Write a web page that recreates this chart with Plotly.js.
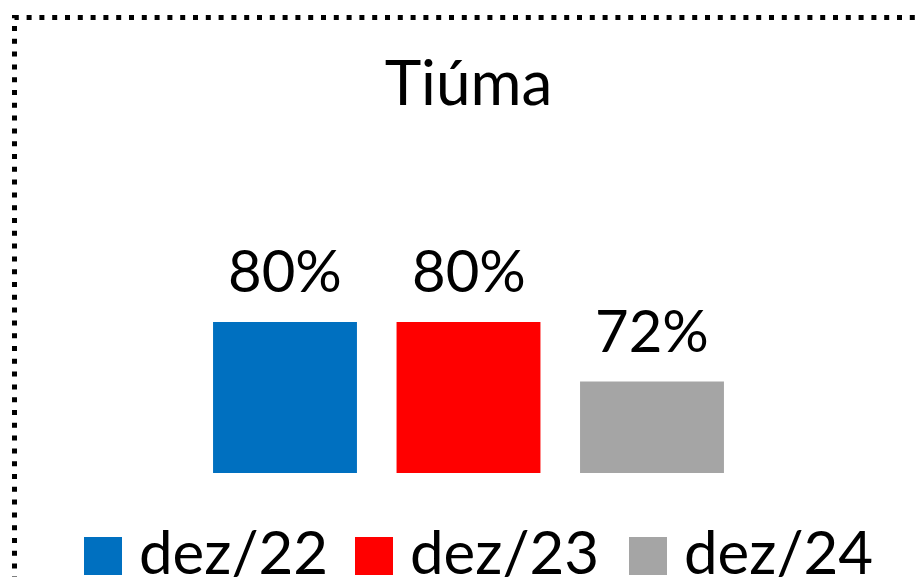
<!DOCTYPE html>
<html>
<head>
<meta charset="utf-8">
<script src="https://cdn.plot.ly/plotly-3.0.1.min.js"></script>
<style>
html,body{margin:0;padding:0;background:#fff;}
#chart{width:919px;height:577px;}
</style>
</head>
<body>
<div id="chart"></div>
<script>
// ---- data ----
const chartTitle = "Tiúma";
const seriesNames = ["dez/22", "dez/23", "dez/24"];
const seriesValues = [80, 80, 72];
const seriesColors = ["#0070C0", "#FF0000", "#A5A5A5"];

// ---- layout geometry (pixels) ----
const W = 919, H = 577;
const plotL = 10, plotR = 909, plotT = 150, plotB = 473;
const catStep = 183.5;      // pixels between bar centres
const midCentre = 468.5;    // pixel centre of the middle bar
const FONT = "Lato, 'Open Sans', sans-serif";
const LW = 5;               // outline width (same colour as fill)
const legendTextLeft = [142, 413, 687]; // pixel x where each legend label starts
const swatchSize = 38, swatchGap = 20, swatchTop = 537, legendTextTop = 513;

const pw = plotR - plotL, ph = plotB - plotT;
const px2x = p => (p - plotL) / pw;
const py2y = p => (plotB - p) / ph;
const xLo = 1 - (midCentre - plotL) / catStep;
const xHi = xLo + pw / catStep;

const traces = seriesNames.map((name, i) => ({
  type: "bar",
  name: name,
  x: [name],
  y: [seriesValues[i]],
  marker: { color: seriesColors[i], line: { color: seriesColors[i], width: LW } },
  hoverinfo: "skip",
  showlegend: false
}));

// value labels above bars
const annotations = seriesNames.map((name, i) => ({
  x: name,
  y: seriesValues[i],
  xref: "x",
  yref: "y",
  text: seriesValues[i] + "%",
  showarrow: false,
  yanchor: "bottom",
  yshift: 18,
  font: { family: FONT, size: 58, color: "#000" }
}));

// legend labels
seriesNames.forEach((name, i) => {
  annotations.push({
    x: px2x(legendTextLeft[i] - 5),
    y: py2y(legendTextTop),
    xref: "paper",
    yref: "paper",
    xanchor: "left",
    yanchor: "top",
    text: name,
    showarrow: false,
    font: { family: FONT, size: 60, color: "#000" }
  });
});

const shapes = [{
  type: "rect",
  xref: "paper",
  yref: "paper",
  x0: px2x(14.5),
  x1: px2x(935),
  y0: py2y(600),
  y1: py2y(17.5),
  line: { color: "#000", width: 5, dash: "5px,7.8px" },
  fillcolor: "rgba(0,0,0,0)",
  layer: "above"
}];

// legend swatches
seriesColors.forEach((c, i) => {
  const left = legendTextLeft[i] - swatchGap - swatchSize;
  shapes.push({
    type: "rect",
    xref: "paper",
    yref: "paper",
    x0: px2x(left),
    x1: px2x(left + swatchSize),
    y0: py2y(swatchTop + swatchSize),
    y1: py2y(swatchTop),
    line: { width: 0 },
    fillcolor: c,
    layer: "above"
  });
});

const layout = {
  width: W,
  height: H,
  margin: { l: plotL, r: W - plotR, t: plotT, b: H - plotB, autoexpand: false },
  paper_bgcolor: "#fff",
  plot_bgcolor: "#fff",
  barmode: "overlay",
  bargap: 0.243,
  showlegend: false,
  title: {
    text: chartTitle,
    font: { family: FONT, size: 62, color: "#000" },
    x: 468.5 / W,
    xanchor: "center",
    xref: "container",
    yref: "container",
    y: 1 - 62 / H,
    yanchor: "top",
    automargin: false
  },
  xaxis: {
    type: "category",
    categoryorder: "array",
    categoryarray: seriesNames,
    range: [xLo, xHi],
    showticklabels: false,
    showgrid: false,
    zeroline: false,
    showline: false,
    ticks: "",
    fixedrange: true
  },
  yaxis: {
    range: [60, 103.5],
    visible: false,
    showgrid: false,
    zeroline: false,
    fixedrange: true
  },
  annotations: annotations,
  shapes: shapes,
  font: { family: FONT, color: "#000" }
};

Plotly.newPlot("chart", traces, layout, { displayModeBar: false, staticPlot: true });
</script>
</body>
</html>
